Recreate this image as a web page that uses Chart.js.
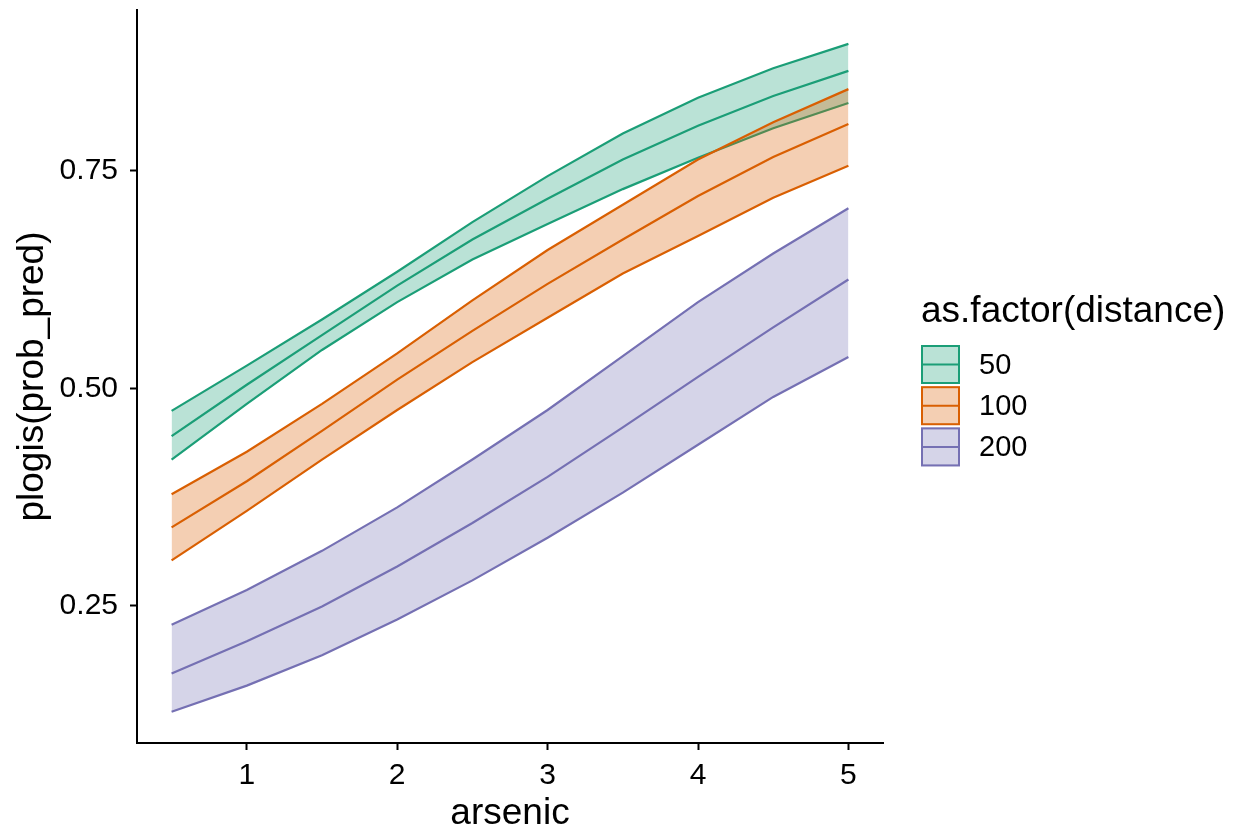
<!DOCTYPE html>
<html>
<head>
<meta charset="utf-8">
<script src="https://cdn.jsdelivr.net/npm/chart.js@4"></script>
<style>
  html, body { margin: 0; padding: 0; background: #fff; }
  #wrap { width: 1234px; height: 832px; }
</style>
</head>
<body>
<div id="wrap"><canvas id="plot"></canvas></div>
<script>
const arsenic = [0.5, 1, 1.5, 2, 2.5, 3, 3.5, 4, 4.5, 5];

const distances = ['50', '100', '200'];

const lo50  = [0.418, 0.482, 0.544, 0.599, 0.648, 0.689, 0.729, 0.765, 0.799, 0.828];
const fit50 = [0.445, 0.504, 0.561, 0.618, 0.671, 0.718, 0.763, 0.802, 0.836, 0.865];
const hi50  = [0.474, 0.526, 0.579, 0.634, 0.691, 0.744, 0.793, 0.834, 0.868, 0.896];

const lo100  = [0.302, 0.359, 0.418, 0.475, 0.530, 0.581, 0.632, 0.675, 0.719, 0.756];
const fit100 = [0.340, 0.393, 0.451, 0.510, 0.566, 0.620, 0.671, 0.721, 0.766, 0.804];
const hi100  = [0.378, 0.427, 0.482, 0.540, 0.601, 0.659, 0.711, 0.763, 0.806, 0.844];

const lo200  = [0.128, 0.158, 0.193, 0.234, 0.279, 0.328, 0.380, 0.435, 0.490, 0.536];
const fit200 = [0.172, 0.209, 0.249, 0.295, 0.345, 0.398, 0.455, 0.513, 0.570, 0.625];
const hi200  = [0.228, 0.268, 0.313, 0.363, 0.418, 0.475, 0.537, 0.599, 0.655, 0.707];

const xTicks = [1, 2, 3, 4, 5];
const yTicks = [0.25, 0.50, 0.75];
const yTickLabels = ['0.25', '0.50', '0.75'];

const colors = ['#1B9E77', '#D95F02', '#7570B3'];
const fills = ['rgba(27,158,119,0.3)', 'rgba(217,95,2,0.3)', 'rgba(117,112,179,0.3)'];

const FONT = "'Liberation Sans', Arial, Helvetica, sans-serif";

const groups = [
  [lo50, fit50, hi50],
  [lo100, fit100, hi100],
  [lo200, fit200, hi200]
];

const pts = arr => arr.map((v, i) => ({ x: arsenic[i], y: v }));

// lower, fit, upper per group; upper carries the ribbon fill down to lower
// higher `order` is painted first, so green goes underneath orange
const datasets = [];
groups.forEach((g, gi) => {
  const base = (2 - gi) * 3;
  const loIdx = datasets.length;
  datasets.push({ label: distances[gi] + ' lo', data: pts(g[0]), borderColor: colors[gi], order: base + 1, fill: false });
  datasets.push({ label: distances[gi], data: pts(g[1]), borderColor: colors[gi], order: base + 2, fill: false });
  datasets.push({ label: distances[gi] + ' hi', data: pts(g[2]), borderColor: colors[gi], backgroundColor: fills[gi], order: base + 3, fill: loIdx });
});

const legendKeys = {
  id: 'legendKeys',
  afterDraw(chart) {
    const c = chart.ctx;
    c.save();
    c.fillStyle = '#000';
    c.font = '37px ' + FONT;
    c.textAlign = 'left';
    c.textBaseline = 'alphabetic';
    c.fillText('as.factor(distance)', 921, 322);
    distances.forEach((d, i) => {
      const x = 921, y = 345 + i * 41.2, w = 39, h = 39;
      c.fillStyle = '#fff';
      c.fillRect(x, y, w, h);
      c.fillStyle = fills[i];
      c.fillRect(x, y, w, h);
      c.strokeStyle = colors[i];
      c.lineWidth = 2;
      c.strokeRect(x + 1, y + 1, w - 2, h - 2);
      c.beginPath();
      c.moveTo(x + 1, y + h / 2);
      c.lineTo(x + w - 1, y + h / 2);
      c.stroke();
      c.fillStyle = '#000';
      c.font = '29px ' + FONT;
      c.textBaseline = 'middle';
      c.fillText(d, 979, y + h / 2 + 1);
    });
    c.restore();
  }
};

new Chart(document.getElementById('plot'), {
  type: 'line',
  data: { datasets: datasets },
  options: {
    responsive: true,
    maintainAspectRatio: false,
    animation: false,
    layout: { padding: { top: 10, right: 351, bottom: 0, left: 0 } },
    elements: {
      line: { borderWidth: 2.2, tension: 0 },
      point: { radius: 0, hoverRadius: 0 }
    },
    plugins: {
      legend: { display: false },
      tooltip: { enabled: false }
    },
    scales: {
      x: {
        type: 'linear',
        min: 0.27,
        max: 5.23,
        afterFit: s => { s.height = 89; s.paddingLeft = 0; s.paddingRight = 0; },
        afterBuildTicks: s => { s.ticks = xTicks.map(v => ({ value: v })); },
        grid: { drawOnChartArea: false, tickLength: 7, tickWidth: 2, tickColor: '#000' },
        border: { display: true, color: '#000', width: 2 },
        ticks: { color: '#000', padding: 8, font: { family: FONT, size: 30 }, callback: v => String(v) },
        title: { display: true, text: 'arsenic', color: '#000', padding: 0, font: { family: FONT, size: 37, lineHeight: 1 } }
      },
      y: {
        type: 'linear',
        min: 0.092,
        max: 0.935,
        afterFit: s => { s.width = 137; s.paddingTop = 0; s.paddingBottom = 0; },
        afterBuildTicks: s => { s.ticks = yTicks.map(v => ({ value: v })); },
        grid: { drawOnChartArea: false, tickLength: 7, tickWidth: 2, tickColor: '#000' },
        border: { display: true, color: '#000', width: 2 },
        ticks: {
          color: '#000', padding: 12, font: { family: FONT, size: 30 },
          callback: v => yTickLabels[yTicks.indexOf(v)]
        },
        title: { display: true, text: 'plogis(prob_pred)', color: '#000', padding: { top: 11, bottom: 0 }, font: { family: FONT, size: 37, lineHeight: 1.2 } }
      }
    }
  },
  plugins: [legendKeys]
});
</script>
</body>
</html>
